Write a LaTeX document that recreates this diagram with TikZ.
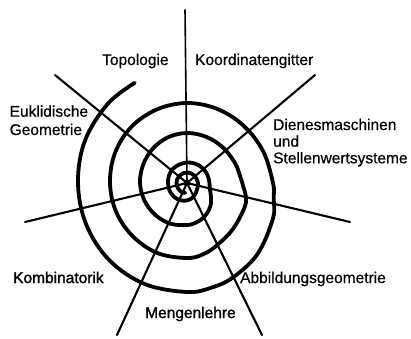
\documentclass[tikz,border=0pt]{standalone}
\usepackage{fontspec}
\setmainfont{Liberation Sans}[FakeBold=0.6]
\newfontfamily\heavyfont{Liberation Sans}[FakeBold=1.6]
\begin{document}
\begin{tikzpicture}[x=1pt,y=1pt,
  spiral/.style={line width=3.8pt, line cap=round, line join=round},
  spoke/.style={line width=2.1pt, line cap=round},
  thinspoke/.style={line width=1.6pt, line cap=round},
  lbl/.style={inner sep=0pt, anchor=base west, font=\fontsize{15.5}{16.7}\selectfont},
  hlbl/.style={lbl, font=\fontsize{15.5}{16.7}\heavyfont}]
\useasboundingbox (0,0) rectangle (411,338);
% hub and spoke ends
\coordinate (hub) at (187,155);
\coordinate (eT) at (185,328);
\coordinate (eUL) at (55,263);
\coordinate (eUR) at (315,263);
\coordinate (eR) at (350,116);
\coordinate (eL) at (25,116);
\coordinate (eLL) at (117,3);
\coordinate (eLR) at (262,3);
\draw[thinspoke] (hub) -- (eT);
\draw[spoke] (hub) -- (eUL);
\draw[spoke] (hub) -- (eUR);
\draw[spoke] (hub) -- (eR);
\draw[spoke] (hub) -- (eL);
\draw[spoke] (hub) -- (eLL);
\draw[spoke] (hub) -- (eLR);
\fill (hub) circle (3.5);
% spiral
\begin{scope}[shift={(187,155)}]
\draw[spiral] plot[smooth, tension=0.6] coordinates {
 (117.5:113) (135:112) (157.5:110.5) (180:109) (202.5:109) (225:109.5)
 (247.5:109.5) (270:109) (283:107.5) (296:105) (315:100) (337.5:93)
 (350:88) (360:86) (382.5:82.5) (405:80.5) (427.5:80) (450:80)
 (472.5:79.5) (495:79) (517.5:78) (540:77) (562.5:76.5) (585:76)
 (607.5:76) (630:75) (643:73) (656:69) (675:65) (697.5:62.5) (708:60)
 (716:56.5) (725:54) (742.5:52) (765:50.5) (787.5:50) (810:50)
 (832.5:49.5) (855:48.5) (877.5:47.5) (900:47) (922.5:46) (945:45)
 (967.5:44) (990:42) (1003:40.5) (1017:38) (1035:33) (1052:27)
 (1066:23.5) (1080:22.5) (1102.5:22) (1125:21.5) (1147.5:21) (1170:20.5)
 (1192.5:20) (1215:20) (1237.5:19.5) (1260:19) (1282.5:19) (1305:19)
 (1327.5:18.5) (1350:17.5) (1372:15.5) (1395:13) (1417:11.5) (1440:11)
 (1462:10.5) (1485:10.5) (1507:10.5) (1530:10.5) (1552:10.5) (1575:10.5)
 (1600:10.5) (1620:10.5) (1650:10.5) (1680:10.5) (1700:10)};
\end{scope}
% labels
\node[lbl] (topo) at (102,273) {Topologie};
\node[lbl] (koord) at (195,273) {Koordinatengitter};
\node[lbl] (eukl1) at (9.5,221.3) {Euklidische};
\node[lbl] (eukl2) at (9.5,203) {Geometrie};
\node[lbl] (dien1) at (273,208) {Dienesmaschinen};
\node[lbl] (dien2) at (273,191.3) {und};
\node[lbl] (dien3) at (273,174.7) {Stellenwertsysteme};
\node[hlbl] (komb) at (13,55) {Kombinatorik};
\node[lbl] (abb) at (240,55) {Abbildungsgeometrie};
\node[hlbl] (meng) at (145,20) {Mengenlehre};
\end{tikzpicture}
\end{document}
